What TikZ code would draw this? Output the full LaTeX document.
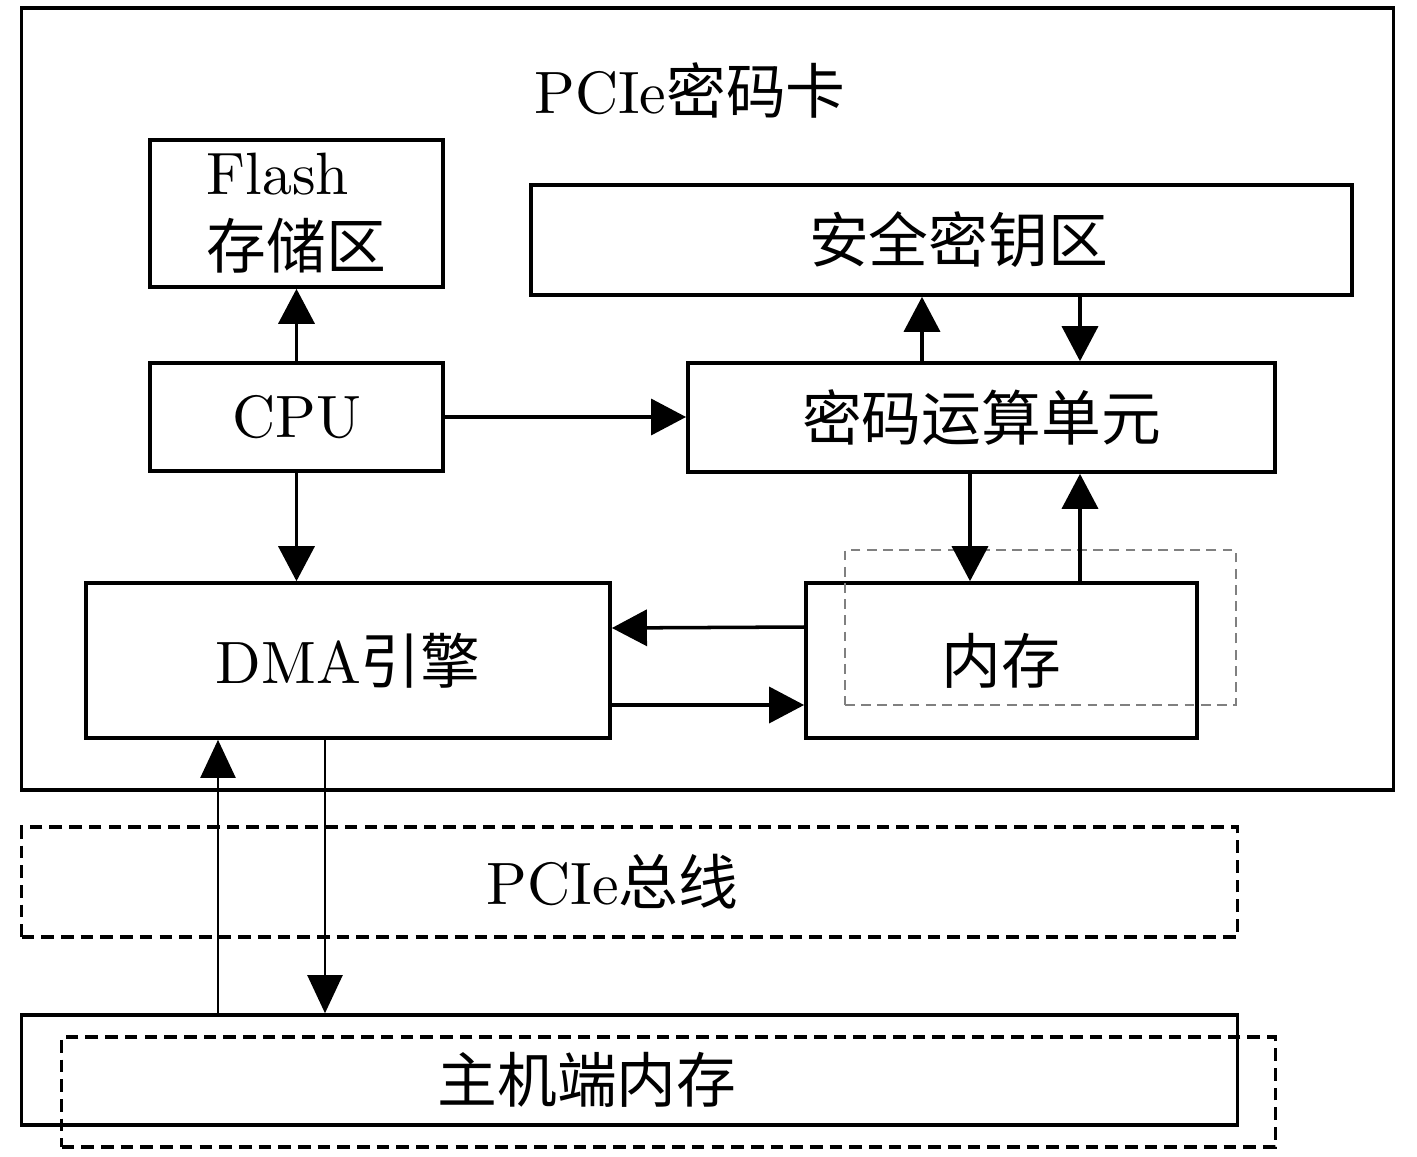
\documentclass[tikz,border=0pt]{standalone}
\usepackage{fontspec}
\setmainfont{lmroman10-regular.otf}
\newfontfamily\cjk{Noto Sans CJK SC}
\usetikzlibrary{arrows.meta}
\tikzset{
  blk/.style={draw,line width=1pt,inner sep=0pt,align=center},
  arr/.style={line width=1pt,-{Triangle[length=0.35cm,width=0.36cm]}},
  thinarr/.style={line width=0.6pt,-{Triangle[length=0.38cm,width=0.35cm]}},
  busline/.style={draw,line width=1pt,dash pattern=on 3.6pt off 2pt},
}
\begin{document}
\begin{tikzpicture}[x=0.01cm,y=-0.01cm,font=\fontsize{17}{21}\selectfont]
  \useasboundingbox (0,0) rectangle (1417,1157);
  % card frame
  \node[blk,minimum width=13.71cm,minimum height=7.82cm] (card) at (707.5,399) {};
  \node (title) at (690,90) {PCIe{\cjk 密码卡}};
  \node[blk,minimum width=2.93cm,minimum height=1.47cm,align=left] (flash) at (296.5,213.5) {Flash\\{\cjk 存储区}};
  \node[blk,minimum width=8.21cm,minimum height=1.10cm,label={[xshift=0.17cm]center:{\cjk 安全密钥区}}] (key) at (941.5,240) {};
  \node[blk,minimum width=2.93cm,minimum height=1.08cm] (cpu) at (296.5,417) {CPU};
  \node[blk,minimum width=5.87cm,minimum height=1.09cm] (crypto) at (981.5,417.5) {{\cjk 密码运算单元}};
  \node[blk,minimum width=5.24cm,minimum height=1.55cm] (dma) at (348,660.5) {DMA{\cjk 引擎}};
  \node[blk,minimum width=3.91cm,minimum height=1.55cm] (mem) at (1001.5,660.5) {{\cjk 内存}};
  \node[draw=gray,line width=0.4pt,dash pattern=on 2.8pt off 1.8pt,minimum width=3.91cm,minimum height=1.55cm] (memd) at (1040.5,627.5) {};
  % bus and host
  \node[busline,minimum width=12.15cm,minimum height=1.10cm,label={[xshift=-0.17cm]center:PCIe{\cjk 总线}}] (bus) at (629.5,882) {};
  \node[blk,minimum width=12.15cm,minimum height=1.10cm] (host) at (629.5,1070) {};
  \node[busline,minimum width=12.13cm,minimum height=1.10cm] (hostd) at (668.5,1092) {};
  \node (hosttxt) at (587,1080) {{\cjk 主机端内存}};
  % arrows
  \draw[arr] (cpu) -- (flash);
  \draw[arr] (cpu) -- (crypto.west |- cpu);
  \draw[arr] (cpu.south) -- (dma.north -| cpu.south);
  \draw[arr] (crypto.north -| 922,0) -- (key.south -| 922,0);
  \draw[arr] (key.south -| 1080,0) -- (crypto.north -| 1080,0);
  \draw[arr] (crypto.south -| 970,0) -- (mem.north -| 970,0);
  \draw[arr] (mem.north -| 1080,0) -- (crypto.south -| 1080,0);
  \draw[arr] (mem.west |- 0,627) -- (dma.east |- 0,628);
  \draw[arr] (dma.east |- 0,705) -- (mem.west |- 0,705);
  \draw[thinarr] (host.north -| 218,0) -- (dma.south -| 218,0);
  \draw[thinarr] (dma.south -| 325,0) -- (host.north -| 325,0);
\end{tikzpicture}
\end{document}
